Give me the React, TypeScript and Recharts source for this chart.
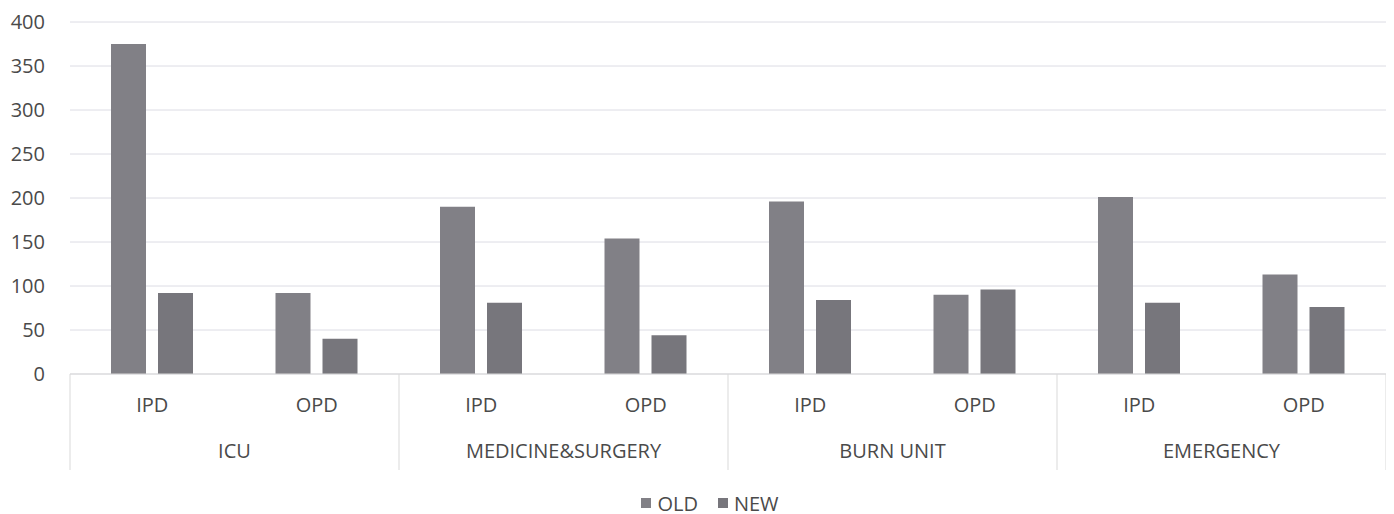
import React from "react";
import { BarChart, Bar, XAxis, YAxis, CartesianGrid, Legend } from "recharts";

const groups = ["ICU", "ICU", "MEDICINE&SURGERY", "MEDICINE&SURGERY", "BURN UNIT", "BURN UNIT", "EMERGENCY", "EMERGENCY"];
const subs = ["IPD", "OPD", "IPD", "OPD", "IPD", "OPD", "IPD", "OPD"];
const oldValues = [375, 92, 190, 154, 196, 90, 201, 113];
const newValues = [92, 40, 81, 44, 84, 96, 81, 76];
const yTicks = [0, 50, 100, 150, 200, 250, 300, 350, 400];

const data = subs.map((s, i) => ({ key: `${groups[i]}-${s}-${i}`, sub: s, group: groups[i], OLD: oldValues[i], NEW: newValues[i] }));

const FONT = "'Open Sans', sans-serif";
const TEXT = "#4a4a4a";
const LINE = "#d9d9d9";
const OLD_COLOR = "#818086";
const NEW_COLOR = "#77767c";

const CategoryTick = (props: any) => {
  const { x, y, payload } = props;
  const idx = payload.index;
  const half = payload.offset || 82.25;
  const sep = 96;
  return (
    <g>
      <text x={x} y={y + 38} textAnchor="middle" fill={TEXT} fontSize={20} fontFamily={FONT}>
        {data[idx].sub}
      </text>
      {idx % 2 === 0 && (
        <>
          <line x1={x - half} x2={x - half} y1={y} y2={y + sep} stroke={LINE} strokeWidth={1} />
          <text x={x + half} y={y + 84} textAnchor="middle" fill={TEXT} fontSize={20} fontFamily={FONT}>
            {data[idx].group}
          </text>
        </>
      )}
      {idx === data.length - 1 && (
        <line x1={x + half} x2={x + half} y1={y} y2={y + sep} stroke={LINE} strokeWidth={1} />
      )}
    </g>
  );
};

const LegendContent = () => (
  <div style={{ height: 22, paddingLeft: 26, display: "flex", justifyContent: "center", alignItems: "center", fontFamily: FONT, fontSize: 20, color: TEXT }}>
    <span style={{ display: "inline-block", width: 10, height: 10, background: OLD_COLOR, marginRight: 6 }} />
    <span style={{ marginRight: 20 }}>OLD</span>
    <span style={{ display: "inline-block", width: 10, height: 10, background: NEW_COLOR, marginRight: 6 }} />
    <span>NEW</span>
  </div>
);

export default function App() {
  return (
    <div style={{ width: 1380, height: 506, background: "#fff" }}>
      <BarChart
        width={1380}
        height={506}
        data={data}
        margin={{ top: 14, right: 2, left: 0, bottom: 18 }}
        barGap={12}
        barCategoryGap="25%"
      >
        <CartesianGrid vertical={false} stroke="#dcdce4" />
        <XAxis
          dataKey="key"
          interval={0}
          tickLine={false}
          tickSize={0}
          tickMargin={0}
          axisLine={{ stroke: LINE }}
          height={100}
          tick={<CategoryTick />}
        />
        <YAxis
          domain={[0, 400]}
          ticks={yTicks}
          width={62}
          axisLine={false}
          tickLine={false}
          tickMargin={19}
          tick={{ fill: TEXT, fontSize: 20, fontFamily: FONT }}
        />
        <Legend verticalAlign="bottom" content={<LegendContent />} wrapperStyle={{ bottom: 0 }} />
        <Bar dataKey="OLD" fill={OLD_COLOR} barSize={35} isAnimationActive={false} />
        <Bar dataKey="NEW" fill={NEW_COLOR} barSize={35} isAnimationActive={false} />
      </BarChart>
    </div>
  );
}
